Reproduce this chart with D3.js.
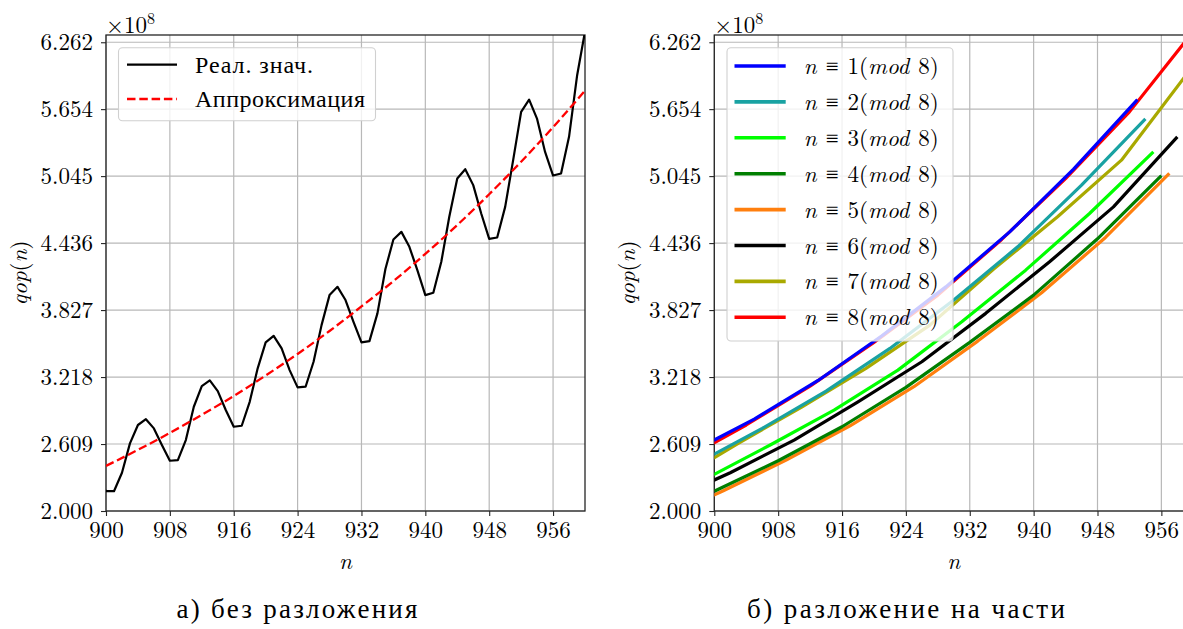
<!DOCTYPE html>
<html lang="ru">
<head>
<meta charset="utf-8">
<script src="https://cdn.jsdelivr.net/npm/d3@7"></script>
<style>
  html, body { margin: 0; padding: 0; background: #fff; }
  svg { display: block; }
</style>
</head>
<body>
<svg id="fig" width="1183" height="629"></svg>
<script>
// qop(n) in units of 1e8, for n = 893 ... 960 (first values lie left of the plotted range)
const nStart = 893;
const qopValues = [
  1.92, 2.084, 2.266, 2.46, 2.532, 2.44, 2.295,            // 893-899
  2.18, 2.18, 2.348, 2.615, 2.782, 2.835, 2.751, 2.60,     // 900-907
  2.457, 2.463, 2.645, 2.948, 3.136, 3.187, 3.09, 2.918,   // 908-915
  2.766, 2.775, 2.993, 3.297, 3.533, 3.593, 3.478, 3.281,  // 916-923
  3.124, 3.13, 3.357, 3.69, 3.963, 4.038, 3.918, 3.72,     // 924-931
  3.533, 3.545, 3.797, 4.20, 4.469, 4.538, 4.402, 4.19,    // 932-939
  3.963, 3.984, 4.266, 4.675, 5.023, 5.108, 4.963, 4.705,  // 940-947
  4.475, 4.487, 4.765, 5.19, 5.629, 5.74, 5.565, 5.265,    // 948-955
  5.05, 5.069, 5.402, 5.955, 6.36                          // 956-960
];

// smooth approximation curve (units of 1e8)
const approxN = [900, 904, 908, 912, 916, 920, 924, 928, 932, 936, 940, 944, 948, 952, 956, 960];
const approxValues = [2.41, 2.556, 2.71, 2.875, 3.045, 3.232, 3.428, 3.637, 3.86, 4.09, 4.338, 4.6, 4.88, 5.176, 5.49, 5.822];

// axis ticks
const xTicks = [900, 908, 916, 924, 932, 940, 948, 956];
const yTicks = [2.000, 2.609, 3.218, 3.827, 4.436, 5.045, 5.654, 6.262];
const yTickLabels = ["2.000", "2.609", "3.218", "3.827", "4.436", "5.045", "5.654", "6.262"];

// residue classes for the split panel
const residueClasses = [1, 2, 3, 4, 5, 6, 7, 8];
const classColors = ["#0000ff", "#19a2a2", "#00ff00", "#007f00", "#ff7f0e", "#000000", "#a9a900", "#ff0000"];

const leftLegend = ["Реал. знач.", "Аппроксимация"];
const captions = ["а) без разложения", "б) разложение на части"];

const xDomain = [900, 960];
const yDomain = [2.0, 6.328];

// fonts: Latin Modern for digits and math, a serif with Cyrillic for words
const MATH = '"Latin Modern Roman", "Liberation Serif", "DejaVu Serif", serif';
const WORD = '"Liberation Serif", "Times New Roman", Times, Tinos, "DejaVu Serif", serif';
function font(sel, fam, size, italic) {
  sel.attr("font-family", fam).style("font-family", fam)
     .attr("font-size", size).style("font-size", size + "px")
     .attr("fill", "#000");
  if (italic) sel.style("font-style", "italic");
  return sel;
}

const svg = d3.select("#fig");
svg.append("rect").attr("width", 1183).attr("height", 629).attr("fill", "#fff");

const FS = 23;
const panelW = 479, plotTop = 35, plotBottom = 511;

const points = qopValues.map((v, i) => ({ n: nStart + i, v }));

function mathLabel(parent, parts) {
  // parts: [text, italic, dx]
  parts.forEach(([s, it, dx]) => {
    const t = parent.append("tspan").text(s);
    if (it) t.style("font-style", "italic");
    if (dx) t.attr("dx", dx);
  });
}

function panel(x0, id) {
  const x = d3.scaleLinear().domain(xDomain).range([x0, x0 + panelW]);
  const y = d3.scaleLinear().domain(yDomain).range([plotBottom, plotTop]);
  const g = svg.append("g");

  g.append("clipPath").attr("id", id)
    .append("rect").attr("x", x0).attr("y", plotTop).attr("width", panelW).attr("height", plotBottom - plotTop);

  // grid
  g.append("g").selectAll("line").data(xTicks).join("line")
    .attr("x1", d => x(d)).attr("x2", d => x(d)).attr("y1", plotTop).attr("y2", plotBottom)
    .attr("stroke", "#b8b8b8").attr("stroke-width", 1.2);
  g.append("g").selectAll("line").data(yTicks).join("line")
    .attr("x1", x0).attr("x2", x0 + panelW).attr("y1", d => y(d)).attr("y2", d => y(d))
    .attr("stroke", "#b8b8b8").attr("stroke-width", 1.2);

  // axes
  const xAxis = d3.axisBottom(x).tickValues(xTicks).tickSize(5).tickPadding(8).tickFormat(d3.format("d"));
  const yAxis = d3.axisLeft(y).tickValues(yTicks).tickSize(5).tickPadding(8)
    .tickFormat((d, i) => yTickLabels[i]);
  const gx = g.append("g").attr("transform", `translate(0,${plotBottom})`).call(xAxis);
  const gy = g.append("g").attr("transform", `translate(${x0},0)`).call(yAxis);
  [gx, gy].forEach(a => {
    a.attr("font-family", MATH).attr("font-size", FS);
    a.select(".domain").remove();
    a.selectAll(".tick line").attr("stroke", "#262626").attr("stroke-width", 1.1);
    font(a.selectAll(".tick text"), MATH, FS);
  });
  gx.selectAll(".tick text").attr("dy", "0.62em");
  gy.selectAll(".tick text").attr("dy", "0.33em");

  // frame
  g.append("rect").attr("x", x0).attr("y", plotTop).attr("width", panelW).attr("height", plotBottom - plotTop)
    .attr("fill", "none").attr("stroke", "#262626").attr("stroke-width", 1.3);

  // offset label
  const off = font(g.append("text").attr("x", x0).attr("y", 33), MATH, FS);
  off.append("tspan").text("×10");
  off.append("tspan").attr("dy", -9).style("font-size", "16px").text("8");

  // axis titles
  const xl = font(g.append("text").attr("x", x0 + panelW / 2).attr("y", 569).attr("text-anchor", "middle"), MATH, FS);
  mathLabel(xl, [["n", true]]);

  const yl = font(g.append("text")
    .attr("transform", `translate(${x0 - 79},${(plotTop + plotBottom) / 2}) rotate(-90)`)
    .attr("text-anchor", "middle"), MATH, FS);
  mathLabel(yl, [["qop", true], ["(", false], ["n", true], [")", false]]);

  return { x, y, g, plot: g.append("g").attr("clip-path", `url(#${id})`) };
}

// ---- left panel: full series with approximation ----
const L = panel(106, "clipL");
const lineL = d3.line().x(d => L.x(d.n)).y(d => L.y(d.v));
L.plot.append("path").datum(points).attr("d", lineL)
  .attr("fill", "none").attr("stroke", "#000").attr("stroke-width", 2.2).attr("stroke-linejoin", "round");
L.plot.append("path").datum(approxN.map((n, i) => ({ n, v: approxValues[i] })))
  .attr("d", d3.line().x(d => L.x(d.n)).y(d => L.y(d.v)).curve(d3.curveMonotoneX))
  .attr("fill", "none").attr("stroke", "#ff0000").attr("stroke-width", 2.3).attr("stroke-dasharray", "8.5 3.8");

// left legend
const lgL = svg.append("g");
lgL.append("rect").attr("x", 118.5).attr("y", 47.7).attr("width", 257).attr("height", 73).attr("rx", 4)
  .attr("fill", "#fff").attr("fill-opacity", 0.8).attr("stroke", "#d0d0d0").attr("stroke-width", 1.1);
const leftLegendWidths = [118, 170];
[64.7, 99].forEach((yy, i) => {
  lgL.append("line").attr("x1", 127).attr("x2", 177).attr("y1", yy).attr("y2", yy)
    .attr("stroke", i === 0 ? "#000" : "#ff0000").attr("stroke-width", i === 0 ? 2.2 : 2.3)
    .attr("stroke-dasharray", i === 0 ? null : "8.5 3.8");
  font(lgL.append("text").attr("x", 195).attr("y", yy + 8), WORD, 24)
    .attr("textLength", leftLegendWidths[i]).attr("lengthAdjust", "spacing")
    .text(leftLegend[i]);
});

// ---- right panel: series split by n mod 8 ----
const R = panel(714.3, "clipR");
const lineR = d3.line().x(d => R.x(d.n)).y(d => R.y(d.v));
residueClasses.slice().reverse().forEach(k => {
  const r = k % 8;
  const pts = points.filter(p => p.n % 8 === r);
  R.plot.append("path").datum(pts).attr("d", lineR)
    .attr("fill", "none").attr("stroke", classColors[k - 1]).attr("stroke-width", 3.2)
    .attr("stroke-linejoin", "round");
});

// right legend
const lgR = svg.append("g");
lgR.append("rect").attr("x", 727).attr("y", 47.7).attr("width", 226).attr("height", 293.3).attr("rx", 4)
  .attr("fill", "#fff").attr("fill-opacity", 0.8).attr("stroke", "#d0d0d0").attr("stroke-width", 1.1);
residueClasses.forEach((k, i) => {
  const yy = 66 + i * 35.9;
  lgR.append("line").attr("x1", 734.5).attr("x2", 785.7).attr("y1", yy).attr("y2", yy)
    .attr("stroke", classColors[k - 1]).attr("stroke-width", 3.6);
  const t = font(lgR.append("text").attr("x", 803.7).attr("y", yy + 8), MATH, FS);
  mathLabel(t, [["n", true], ["≡", false, 9], [k + "(", false, 9], ["mod", true], ["8)", false, 9]]);
});

// captions
const captionX = [297, 906], captionW = [241, 318];
captions.forEach((s, i) => {
  font(svg.append("text").attr("x", captionX[i] - captionW[i] / 2).attr("y", 618), WORD, 27)
    .attr("textLength", captionW[i]).attr("lengthAdjust", "spacing")
    .text(s);
});
</script>
</body>
</html>
